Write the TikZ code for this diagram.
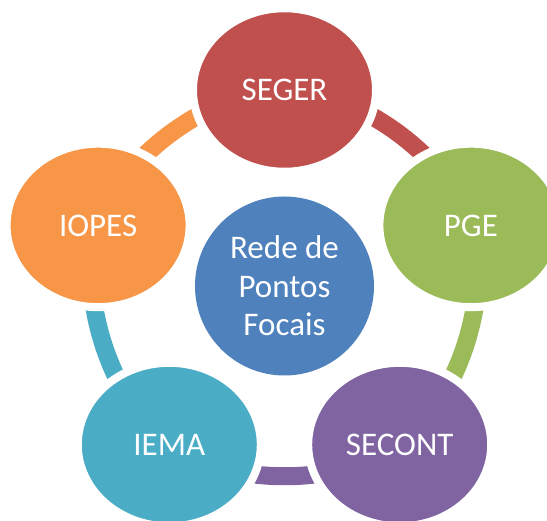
\documentclass[tikz,border=0pt]{standalone}
\usepackage{fontspec}
\setmainfont{Carlito}
\usetikzlibrary{shapes.geometric,backgrounds}
\definecolor{segercol}{HTML}{C0504D}
\definecolor{pgecol}{HTML}{9BBB59}
\definecolor{secontcol}{HTML}{8064A2}
\definecolor{iemacol}{HTML}{4BACC6}
\definecolor{iopescol}{HTML}{F79646}
\definecolor{hubcol}{HTML}{4F81BD}
\begin{document}
\begin{tikzpicture}[x=1pt,y=1pt,
  whitetext/.style={text=white, font=\fontsize{33}{38.5}\selectfont},
  member/.style={ellipse, whitetext, inner sep=0pt, minimum width=183pt,
    minimum height=163.5pt, draw=white, line width=8pt, fill=#1},
  hubnode/.style={circle, whitetext, inner sep=0pt, minimum size=179pt,
    fill=hubcol, align=center},
  link/.style={draw=#1, line width=18pt, bend left=36, looseness=0.8},
]
\useasboundingbox (0,0) rectangle (547,521);
\clip (0,0) rectangle (547,521);

% central node
\node[hubnode] (hub) at (284.5,235) {Rede de\\Pontos\\Focais};

% the five members, on a ring around the centre
\begin{scope}[shift={(284.5,235)}]
  \node[member=segercol]  (seger)  at (90:196)   {SEGER};
  \node[member=pgecol]    (pge)    at (18:196)   {PGE};
  \node[member=secontcol] (secont) at (-54:196)  {SECONT};
  \node[member=iemacol]   (iema)   at (-126:196) {IEMA};
  \node[member=iopescol]  (iopes)  at (162:196)  {IOPES};
\end{scope}

% ring segments joining neighbouring members
\begin{pgfonlayer}{background}
  \draw[link=segercol]  (seger.center)  to (pge.center);
  \draw[link=pgecol]    (pge.center)    to (secont.center);
  \draw[link=secontcol] (secont.center) to (iema.center);
  \draw[link=iemacol]   (iema.center)   to (iopes.center);
  \draw[link=iopescol]  (iopes.center)  to (seger.center);
\end{pgfonlayer}
\end{tikzpicture}
\end{document}
